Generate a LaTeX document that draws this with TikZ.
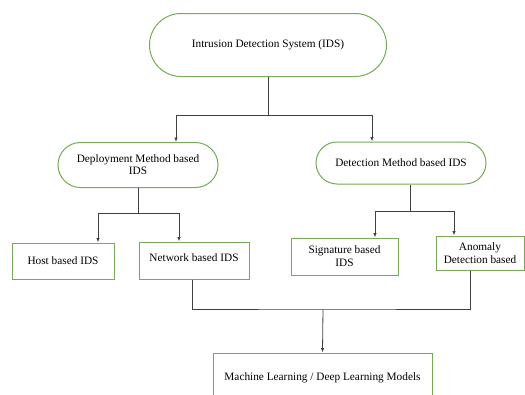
\documentclass[tikz,border=0pt]{standalone}
\usepackage{fontspec}
\setmainfont{Liberation Serif}
\usetikzlibrary{shapes.misc,arrows.meta}
\definecolor{edgegreen}{RGB}{118,170,88}

\begin{document}
\begin{tikzpicture}[x=1pt,y=-1pt,
   font=\fontsize{11.3}{13}\selectfont,
   >={Latex[length=4.5pt,width=3.5pt]},
   pill/.style={rounded rectangle,draw=edgegreen,line width=1pt,fill=white,inner sep=1pt},
   box/.style={rectangle,draw=edgegreen,line width=1pt,fill=white,inner sep=1pt,align=center},
   link/.style={draw=black!75,line width=0.8pt}]
   \useasboundingbox (0,0) rectangle (525,394);
   \clip (0,0) rectangle (525,394);
   \node[pill,minimum width=239pt,minimum height=63pt] (ids) at (268,45) {Intrusion Detection System (IDS)};
   \node[pill,minimum width=162pt,minimum height=45pt,align=center] (dep) at (138,165) {Deployment Method based\\[-1pt]IDS};
   \node[pill,minimum width=172pt,minimum height=42pt] (det) at (401,163) {Detection Method based IDS};
   \node[box,minimum width=102pt,minimum height=36pt] (host) at (63,261) {Host based IDS};
   \node[box,minimum width=110pt,minimum height=37pt] (net) at (194,260.5) {\raisebox{5pt}{Network based IDS}};
   \node[box,minimum width=107pt,minimum height=37pt] (sig) at (344.5,256.5) {Signature based\\IDS};
   \node[box,minimum width=88pt,minimum height=34pt] (ano) at (480,253) {Anomaly\\Detection based};
   \node[box,minimum width=219pt,minimum height=52pt] (ml) at (322.5,379) {\raisebox{5pt}{Machine Learning / Deep Learning Models}};
   \coordinate (j1) at (268,115);
   \coordinate (j2) at (138,213);
   \coordinate (j3) at (410,211);
   \coordinate (j4) at (323,309);
   \draw[link] (ids.south) -- (j1);
   \draw[link,->] (j1) -| ([xshift=38pt]dep.north);
   \draw[link,->] (j1) -| ([xshift=-29pt]det.north);
   \draw[link] (dep.south) -- (j2);
   \draw[link,->] (j2) -| ([xshift=35pt]host.north);
   \draw[link,->] (j2) -| ([xshift=-15pt]net.north);
   \draw[link] ([xshift=9pt]det.south) -- (j3);
   \draw[link,->] (j3) -| ([xshift=30.5pt]sig.north);
   \draw[link,->] (j3) -| ([xshift=-26pt]ano.north);
   \draw[link] ([xshift=-2pt]net.south) |- (j4) -| ([xshift=-10pt]ano.south);
   \draw[link,->] (j4) -- (ml.north);
\end{tikzpicture}
\end{document}
